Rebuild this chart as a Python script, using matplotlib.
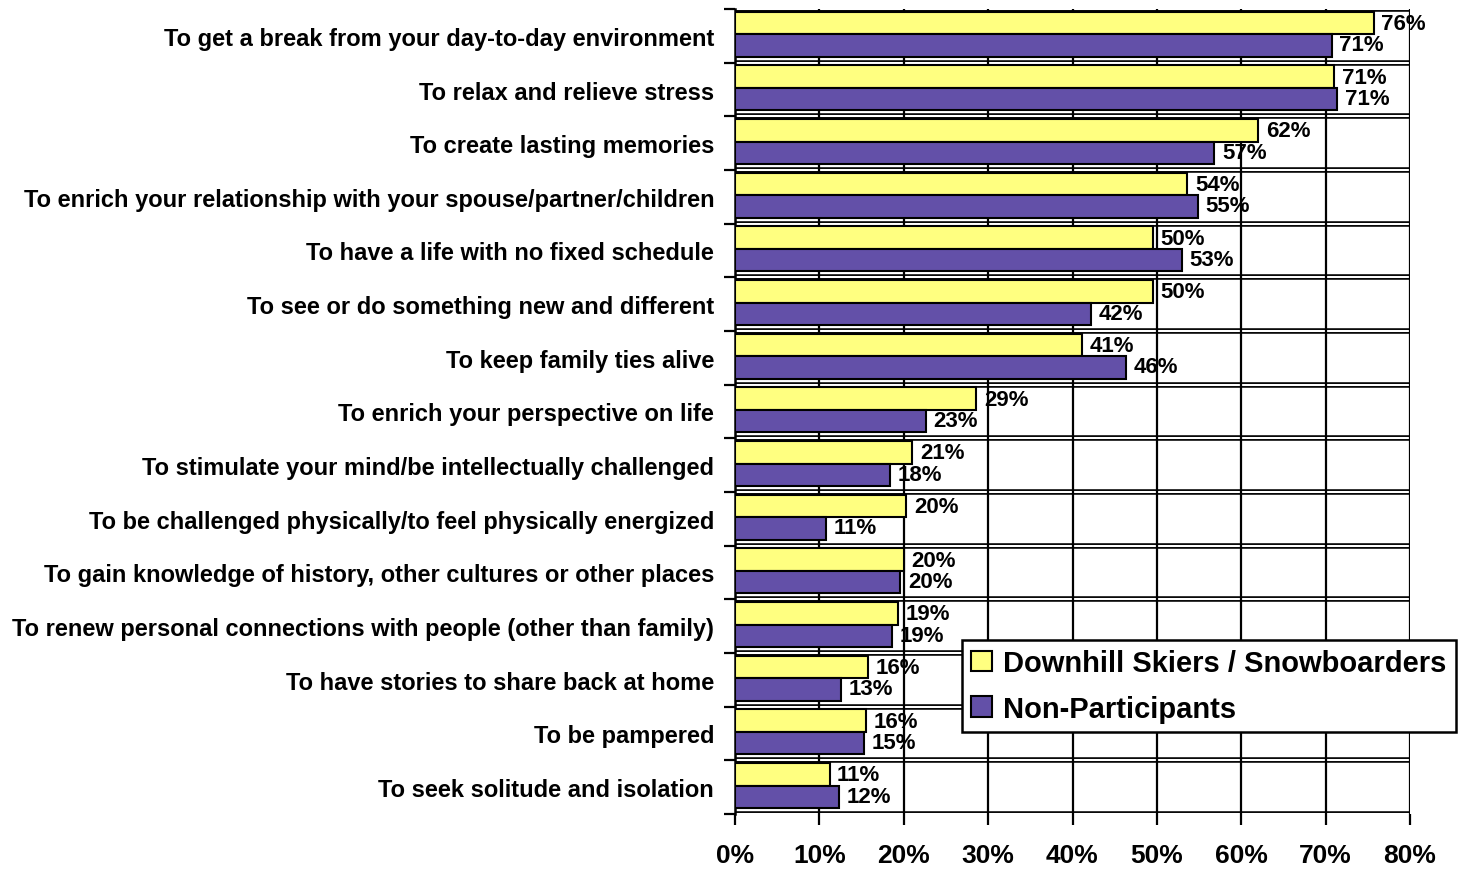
import numpy as np
import matplotlib
matplotlib.use("Agg")
import matplotlib.pyplot as plt
from matplotlib.patches import Patch

plt.rcParams['font.family'] = ['Liberation Sans', 'DejaVu Sans']
plt.rcParams['font.weight'] = 'bold'

categories = [
    "To get a break from your day-to-day environment",
    "To relax and relieve stress",
    "To create lasting memories",
    "To enrich your relationship with your spouse/partner/children",
    "To have a life with no fixed schedule",
    "To see or do something new and different",
    "To keep family ties alive",
    "To enrich your perspective on life",
    "To stimulate your mind/be intellectually challenged",
    "To be challenged physically/to feel physically energized",
    "To gain knowledge of history, other cultures or other places",
    "To renew personal connections with people (other than family)",
    "To have stories to share back at home",
    "To be pampered",
    "To seek solitude and isolation",
]
skiers = [75.7, 71.0, 62.0, 53.6, 49.5, 49.5, 41.1, 28.6, 21.0, 20.3, 20.0, 19.3, 15.8, 15.5, 11.2]
non_part = [70.7, 71.4, 56.8, 54.9, 53.0, 42.2, 46.3, 22.6, 18.4, 10.8, 19.6, 18.6, 12.6, 15.3, 12.3]
xticks = [0, 10, 20, 30, 40, 50, 60, 70, 80]

yellow = '#FFFF80'
purple = '#6350A8'

fig = plt.figure(figsize=(14.65, 8.7), dpi=100)
ax = fig.add_axes([735/1465, 1-815/870, 675/1465, 805/870])

n = len(categories)
y = np.arange(n)
h = 0.42
off = -0.03
ax.barh(y - h/2 + off, skiers, height=h, color=yellow, edgecolor='black', linewidth=1.5, zorder=3)
ax.barh(y + h/2 + off, non_part, height=h, color=purple, edgecolor='black', linewidth=1.5, zorder=3)

for i in range(n):
    ax.text(skiers[i] + 0.9, y[i] - h/2 + off + 0.01, f"{skiers[i]:.0f}%", va='center', ha='left',
            fontsize=16, fontweight='bold', zorder=5)
    ax.text(non_part[i] + 0.9, y[i] + h/2 + off - 0.01, f"{non_part[i]:.0f}%", va='center', ha='left',
            fontsize=16, fontweight='bold', zorder=5)

ax.set_xlim(0, 80)
ax.set_ylim(n - 0.5, -0.5)

# category separators (double lines)
for b in np.arange(-0.5, n, 1.0):
    ax.axhline(b, color='black', lw=4.0, zorder=1)
    ax.axhline(b, color='white', lw=1.5, zorder=1.5)
for xv in xticks[1:]:
    ax.axvline(xv, color='black', lw=1.6, zorder=2)

ax.set_yticks(y)
ax.set_yticklabels(categories, fontsize=17, fontweight='bold')
ax.set_yticks(np.arange(-0.5, n, 1.0), minor=True)
ax.tick_params(axis='y', which='major', length=0, pad=15)
ax.tick_params(axis='y', which='minor', length=8, width=1.6, direction='out')

ax.set_xticks(xticks)
ax.set_xticklabels([f"{v}%" for v in xticks], fontsize=19, fontweight='bold')
ax.tick_params(axis='x', length=8, width=1.6, direction='out', pad=13)

for s in ['top', 'right']:
    ax.spines[s].set_visible(False)
ax.spines['left'].set_linewidth(1.8)
ax.spines['bottom'].set_visible(False)

handles = [Patch(facecolor=yellow, edgecolor='black', linewidth=1.5, label='Downhill Skiers / Snowboarders'),
           Patch(facecolor=purple, edgecolor='black', linewidth=1.5, label='Non-Participants')]
leg = fig.legend(handles=handles, loc='upper left', bbox_to_anchor=(962/1465, 1-641/870),
                 prop={'size': 21, 'weight': 'bold'}, frameon=True, fancybox=False,
                 edgecolor='black', framealpha=1, handlelength=0.7, handleheight=0.7,
                 handletextpad=0.4, borderpad=0.32, labelspacing=0.6, borderaxespad=0)
leg.get_frame().set_linewidth(1.8)
leg.set_zorder(10)

fig.savefig('out.png', dpi=100)
